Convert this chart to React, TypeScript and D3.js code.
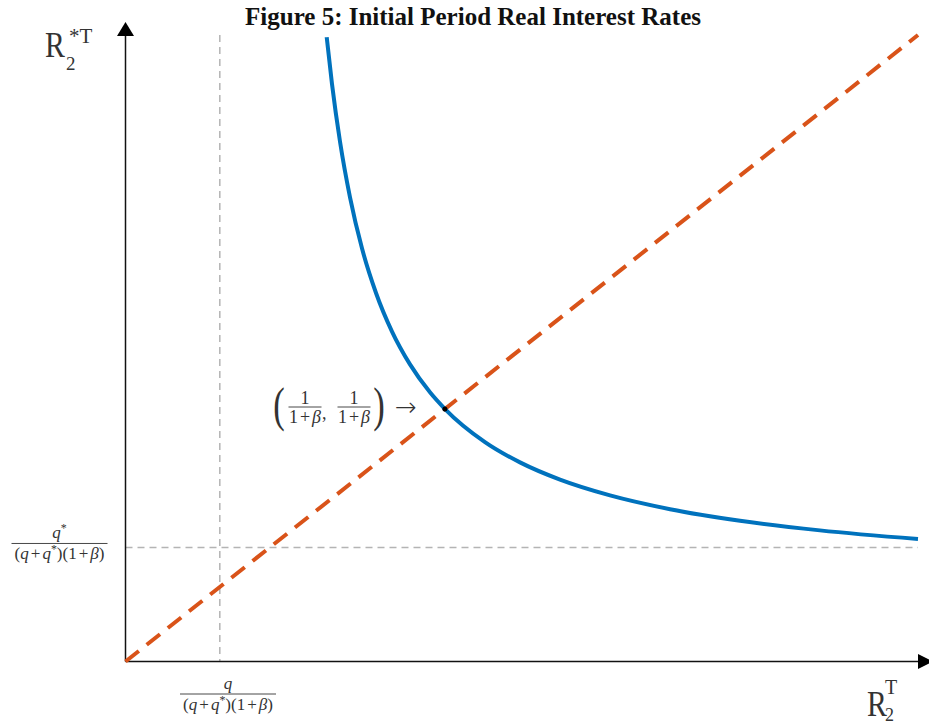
import React from "react";
import * as d3 from "d3";

// Schematic axes run from 0 to 1 in both directions.
const curveR = [
  0.2539, 0.2606, 0.2707, 0.2833, 0.2984, 0.3161, 0.3363, 0.359, 0.3842, 0.4032,
  0.4536, 0.4978, 0.5483, 0.6114, 0.6871, 0.7754, 0.8763, 1.0,
];
const curveRStar = [
  0.9963, 0.9213, 0.8295, 0.7408, 0.6595, 0.5882, 0.5266, 0.4742, 0.4297, 0.403,
  0.3502, 0.3178, 0.2903, 0.2651, 0.2431, 0.2246, 0.2093, 0.1955,
];
const diagR = [0, 1];
const diagRStar = [0, 1];
const equilibrium = 0.403;
const homeTick = 0.119;
const foreignTick = 0.182;
const title = "Figure 5: Initial Period Real Interest Rates";

const W = 929;
const H = 726;
const BLUE = "#0072bd";
const ORANGE = "#d95319";
const GRID = "#b4b4b4";
const INK = "#333";
const SERIF = "'Liberation Serif', 'Times New Roman', serif";

const x = d3.scaleLinear().domain([0, 1]).range([125.5, 918]);
const y = d3.scaleLinear().domain([0, 1]).range([661.5, 35]);

const curvePath = d3
  .line<number>()
  .x((d) => x(d))
  .y((_, i) => y(curveRStar[i]))
  .curve(d3.curveMonotoneX)(curveR) as string;

const diagPath = d3
  .line<number>()
  .x((d) => x(d))
  .y((_, i) => y(diagRStar[i]))(diagR) as string;

// Denominator (q+q*)(1+β) as a LaTeX-style run of tspans
function Denominator() {
  return (
    <>
      <tspan>(</tspan>
      <tspan fontStyle="italic">q</tspan>
      <tspan dx={2}>+</tspan>
      <tspan dx={2} fontStyle="italic">q</tspan>
      <tspan fontSize="0.7em" dy={-6}>*</tspan>
      <tspan dy={6}>)(1</tspan>
      <tspan dx={2}>+</tspan>
      <tspan dx={2} fontStyle="italic">β</tspan>
      <tspan>)</tspan>
    </>
  );
}

function Frac({
  cx,
  barY,
  barW,
  size,
  num,
  den,
  numGap = 4,
  denGap = 15,
}: {
  cx: number;
  barY: number;
  barW: number;
  size: number;
  num: React.ReactNode;
  den: React.ReactNode;
  numGap?: number;
  denGap?: number;
}) {
  return (
    <g fontFamily={SERIF} fontSize={size} fill={INK} textAnchor="middle">
      <text x={cx} y={barY - numGap}>{num}</text>
      <line x1={cx - barW / 2} x2={cx + barW / 2} y1={barY} y2={barY} stroke={INK} strokeWidth={0.9} />
      <text x={cx} y={barY + denGap}>{den}</text>
    </g>
  );
}

function OnePlusBeta() {
  return (
    <>
      <tspan>1</tspan>
      <tspan dx={2}>+</tspan>
      <tspan dx={2} fontStyle="italic">β</tspan>
    </>
  );
}

export default function App() {
  const ex = x(equilibrium);
  const ey = y(equilibrium);
  return (
    <svg
      width={W}
      height={H}
      viewBox={`0 0 ${W} ${H}`}
      style={{ position: "absolute", left: 0, top: 0, background: "#fff" }}
    >
      <rect width={W} height={H} fill="#fff" />

      {/* title */}
      <text x={473} y={25} textAnchor="middle" fontFamily={SERIF} fontWeight="bold" fontSize={25} fill="#111">
        {title}
      </text>

      {/* reference lines */}
      <line x1={x(homeTick)} x2={x(homeTick)} y1={y(1)} y2={y(0)} stroke={GRID} strokeWidth={1.5} strokeDasharray="7 5" />
      <line x1={x(0)} x2={x(1)} y1={y(foreignTick)} y2={y(foreignTick)} stroke={GRID} strokeWidth={1.5} strokeDasharray="7 5" />

      {/* axes with arrowheads */}
      <line x1={x(0)} x2={x(0)} y1={y(0)} y2={y(1)} stroke="#111" strokeWidth={1.5} />
      <line x1={x(0)} x2={x(1)} y1={y(0)} y2={y(0)} stroke="#111" strokeWidth={1.5} />
      <path d={`M${x(0)},${y(1) - 13} L${x(0) - 8.5},${y(1) + 1} L${x(0) + 8.5},${y(1) + 1} Z`} fill="#000" />
      <path d={`M${x(1) + 15},${y(0)} L${x(1)},${y(0) - 7.5} L${x(1)},${y(0) + 7.5} Z`} fill="#000" />

      {/* 45-degree line and the curve */}
      <path d={diagPath} fill="none" stroke={ORANGE} strokeWidth={4} strokeDasharray="17 10" />
      <path d={curvePath} fill="none" stroke={BLUE} strokeWidth={4} strokeLinecap="butt" />
      <circle cx={ex} cy={ey} r={2.5} fill="#000" />

      {/* axis titles */}
      <g fontFamily={SERIF} fill={INK}>
        <text transform="translate(45,57) scale(0.85,1)" fontSize={35}>R</text>
        <text x={66} y={70} fontSize={19}>2</text>
        <text x={69} y={43} fontSize={21}>*T</text>

        <text transform="translate(867,716) scale(0.85,1)" fontSize={35}>R</text>
        <text x={885} y={721} fontSize={18}>2</text>
        <text x={885} y={694} fontSize={20}>T</text>
      </g>

      {/* tick labels */}
      <Frac
        cx={59.5}
        barY={y(foreignTick) - 4}
        barW={96}
        size={17}
        num={
          <>
            <tspan fontStyle="italic">q</tspan>
            <tspan fontSize="0.7em" dy={-6}>*</tspan>
          </>
        }
        den={<Denominator />}
        numGap={5}
        denGap={16}
      />
      <Frac
        cx={228}
        barY={694}
        barW={96}
        size={17}
        num={<tspan fontStyle="italic">q</tspan>}
        den={<Denominator />}
        numGap={5}
        denGap={16}
      />

      {/* equilibrium annotation */}
      <g fontFamily={SERIF} fill={INK}>
        <text transform="translate(279,421) scale(0.72,1)" fontSize={48} textAnchor="middle">(</text>
        <text transform="translate(379,421) scale(0.72,1)" fontSize={48} textAnchor="middle">)</text>
        <text x={322} y={419} fontSize={18}>,</text>
        <text x={406} y={416} fontSize={26} textAnchor="middle" fontFamily="'DejaVu Sans', sans-serif" fontWeight={300}>
          →
        </text>
      </g>
      <Frac cx={305} barY={407} barW={33} size={18} num={<tspan>1</tspan>} den={<OnePlusBeta />} numGap={3} denGap={16} />
      <Frac cx={354} barY={407} barW={33} size={18} num={<tspan>1</tspan>} den={<OnePlusBeta />} numGap={3} denGap={16} />
    </svg>
  );
}
